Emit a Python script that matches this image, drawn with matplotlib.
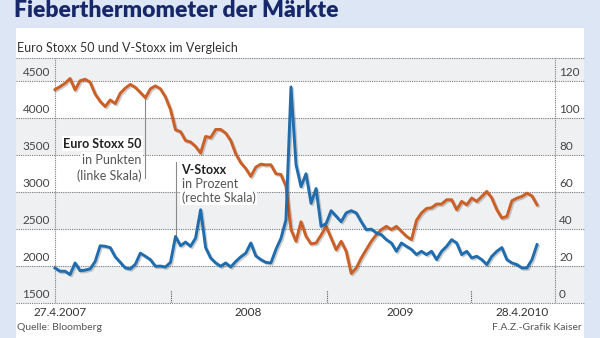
import numpy as np
import matplotlib
matplotlib.use("Agg")
import matplotlib.pyplot as plt
import matplotlib.dates as mdates
import matplotlib.patheffects as pe
from matplotlib.patches import Rectangle
from matplotlib.transforms import blended_transform_factory

stoxx = [4390, 4430, 4475, 4540, 4385, 4510, 4530, 4490, 4330, 4230,
         4160, 4250, 4200, 4340, 4410, 4460, 4420, 4350, 4280, 4400,
         4440, 4400, 4290, 4120, 3845, 3820, 3700, 3680, 3620, 3530,
         3755, 3740, 3850, 3850, 3800, 3700, 3520, 3400, 3320, 3214,
         3340, 3380, 3370, 3372, 3250, 3240, 3080, 2494, 2336, 2600,
         2403, 2300, 2313, 2420, 2538, 2380, 2220, 2336, 2200, 1900,
         1975, 2110, 2223, 2336, 2425, 2494, 2538, 2494, 2538, 2470,
         2403, 2358, 2620, 2720, 2780, 2790, 2840, 2840, 2898, 2898,
         2763, 2876, 2830, 2921, 2876, 2943, 3011, 2921, 2763, 2650,
         2673, 2885, 2920, 2943, 2988, 2950, 2830]
vstoxx = [19.0, 17.2, 17.2, 15.4, 21.7, 17.5, 17.8, 18.5, 22.5, 31.0,
          30.7, 30.0, 25.0, 22.0, 19.0, 18.5, 21.0, 27.0, 25.3, 23.5,
          19.9, 20.0, 19.5, 22.0, 36.0, 31.0, 33.0, 30.7, 35.2, 50.5,
          30.0, 24.4, 21.7, 19.9, 21.7, 19.5, 22.5, 25.0, 27.0, 32.5,
          25.5, 23.5, 22.0, 21.7, 29.0, 35.0, 45.0, 117.0, 75.0, 63.0,
          70.0, 54.0, 62.0, 41.5, 43.0, 50.0, 47.0, 44.0, 48.8, 50.0,
          48.8, 44.0, 39.7, 40.0, 38.0, 37.0, 34.3, 32.5, 28.0, 32.5,
          30.7, 29.0, 26.2, 28.0, 26.2, 28.0, 23.5, 28.0, 30.7, 34.3,
          32.5, 26.2, 28.0, 24.4, 25.3, 23.5, 20.8, 25.3, 28.0, 30.0,
          23.5, 21.7, 20.8, 19.0, 19.0, 23.5, 31.6]
left_ticks = [1500, 2000, 2500, 3000, 3500, 4000, 4500]
right_ticks = [0, 20, 40, 60, 80, 100, 120]
x_labels = ["27.4.2007", "2008", "2009", "28.4.2010"]
x_label_dates = ["2007-05-08", "2008-07-10", "2009-06-20", "2010-03-25"]
x_tick_dates = ["2008-01-17", "2009-01-05", "2009-11-29"]

start = mdates.datestr2num("2007-04-27")
end = mdates.datestr2num("2010-04-28")
dates = np.linspace(start, end, len(stoxx))

ORANGE = "#cc5f26"
BLUE = "#1f6dae"
GRID = "#7a7a7a"
plt.rcParams["font.family"] = ["Lato", "DejaVu Sans"]

W, H = 600, 338
fig = plt.figure(figsize=(6, 3.38), dpi=100)
fig.patch.set_facecolor("#dde6f4")
fig.add_artist(Rectangle((16 / W, 0), 568 / W, 310 / H, transform=fig.transFigure,
                         facecolor="white", edgecolor="none", zorder=0))

fig.text(14 / W, 1 - 17 / H, "Fieberthermometer der Märkte", fontsize=16.5,
         fontweight="heavy", color="#17286a", va="baseline", ha="left")
fig.text(17 / W, 1 - 48 / H, "Euro Stoxx 50 und V-Stoxx im Vergleich", fontsize=9,
         color="#333333", va="center", ha="left")

ax = fig.add_axes([16 / W, 35 / H, 568 / W, 245 / H])
ppd = (537 - 55) / (end - start)
ax.set_xlim(start - 39 / ppd, end + 47 / ppd)
ymax = 4500 + 23.5 * 500 / 37
ax.set_ylim(1500, ymax)
ax.patch.set_visible(False)
for s in ax.spines.values():
    s.set_visible(False)
ax.set_xticks([])
ax.set_yticks([])

for lo, hi in [(1500, 2000), (2500, 3000), (3500, 4000), (4500, ymax)]:
    ax.axhspan(lo, hi, color="#eef0f2", lw=0, zorder=0)
for v in left_ticks + [ymax]:
    ax.axhline(v, color=GRID, lw=0.8, ls=(0, (1, 1)), zorder=1, clip_on=False)
ax.axvline(start, color=GRID, lw=0.8, ls=(0, (1, 1)), zorder=1)
ax.axvline(end + 18 / ppd, color=GRID, lw=0.8, ls=(0, (1, 1)), zorder=1)
ax.vlines(mdates.datestr2num(x_tick_dates), 1500, 1680, color="#555555", lw=0.8,
          ls=(0, (1, 1)), zorder=1)

tl = blended_transform_factory(ax.transAxes, ax.transData)
for v in left_ticks:
    ax.text(34 / 568, v + 8.5 * 500 / 37, str(v), transform=tl, ha="right", va="center",
            fontsize=8.5, color="#444444")
for v, r in zip(left_ticks, right_ticks):
    ax.text(543 / 568, v + 8.5 * 500 / 37, str(r), transform=tl, ha="left", va="center",
            fontsize=8.5, color="#444444")

tb = blended_transform_factory(ax.transData, ax.transAxes)
for lab, d in zip(x_labels, x_label_dates):
    ax.text(mdates.datestr2num(d), -10 / 245, lab, transform=tb, ha="center", va="center",
            fontsize=8.5, color="#333333")

shadow = [pe.SimpleLineShadow(offset=(1, -1), alpha=0.2), pe.Normal()]
ax.plot(dates, stoxx, color=ORANGE, lw=2.1, zorder=4, solid_joinstyle="round",
        path_effects=shadow)

ax2 = ax.twinx()
ax2.set_ylim(0, (ymax - 1500) / 25)
ax2.axis("off")
ax2.plot(dates, vstoxx, color=BLUE, lw=2.1, zorder=4, solid_joinstyle="round",
         path_effects=shadow)

# Beschriftungen mit Hinweislinien
i_e = 18
ax.plot([dates[i_e]] * 2, [stoxx[i_e], 3190], color="#8a8a8a", lw=0.8, zorder=3)
box = dict(facecolor="white", edgecolor="none", pad=1)
tx = dates[i_e] - 4 / ppd
ax.text(tx, 3656, "Euro Stoxx 50", ha="right", va="center", fontsize=9,
        fontweight="bold", color="#222222", zorder=3, bbox=box)
ax.text(tx, 3440, "in Punkten", ha="right", va="center", fontsize=9,
        color="#555555", zorder=3, bbox=box)
ax.text(tx, 3223, "(linke Skala)", ha="right", va="center", fontsize=9,
        color="#555555", zorder=3, bbox=box)

i_v = 24
ax2.plot([dates[i_v]] * 2, [vstoxx[i_v], 76.5], color="#8a8a8a", lw=0.8, zorder=3)
tx = dates[i_v] + 6 / ppd
ax.text(tx, 3304, "V-Stoxx", ha="left", va="center", fontsize=9,
        fontweight="bold", color="#222222", zorder=3, bbox=box)
ax.text(tx, 3115, "in Prozent", ha="left", va="center", fontsize=9,
        color="#555555", zorder=3, bbox=box)
ax.text(tx, 2926, "(rechte Skala)", ha="left", va="center", fontsize=9,
        color="#555555", zorder=3, bbox=box)

fig.text(17 / W, 1 - 327 / H, "Quelle: Bloomberg", fontsize=7.5, color="#555555",
         va="center", ha="left")
fig.text(582 / W, 1 - 327 / H, "F.A.Z.-Grafik Kaiser", fontsize=7.5, color="#555555",
         va="center", ha="right")

fig.savefig("out.png", dpi=100, facecolor=fig.get_facecolor())
